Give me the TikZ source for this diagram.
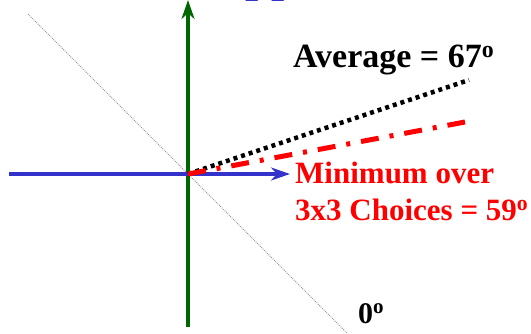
\documentclass[tikz,border=0pt]{standalone}
\usepackage{fontspec}
\setmainfont{Liberation Serif}
\usetikzlibrary{arrows.meta}
\definecolor{axblue}{RGB}{51,51,204}
\definecolor{axgreen}{RGB}{0,102,0}
\begin{document}
\begin{tikzpicture}[x=1pt,y=-1pt,
  axis/.style={line width=4pt,-{Stealth[length=19pt,width=13pt,inset=6pt]}},
  lbl/.style={inner sep=0pt,anchor=base west},
  bigtxt/.style={font=\bfseries\fontsize{34}{40}\selectfont},
  midtxt/.style={font=\bfseries\fontsize{31}{36}\selectfont},
  smalltxt/.style={font=\bfseries\fontsize{30}{36}\selectfont},
  titletxt/.style={font=\bfseries\fontsize{47}{56}\selectfont},
  diag/.style={line width=0.8pt,gray!80,dash pattern=on 1pt off 1pt},
  avgline/.style={line width=4.5pt,black,dash pattern=on 4pt off 4pt},
  minline/.style={line width=5pt,red,dash pattern=on 18pt off 11pt on 4pt off 11pt}]
\clip (0,0) rectangle (531,333);
\useasboundingbox (0,0) rectangle (531,333);
\coordinate (O) at (188,174);
\coordinate (gB) at (188,327);
\coordinate (gT) at (188,0);
\coordinate (bL) at (9,174);
\coordinate (bR) at (290,174);
\coordinate (dA) at (28,14);
\coordinate (dB) at (347,333);
\coordinate (avgEnd) at (469,80);
\coordinate (minEnd) at (465,122);
\draw[diag] (dA) -- (dB);
\draw[axis,axgreen] (gB) -- (gT);
\draw[axis,axblue] (bL) -- (bR);
\draw[avgline] (O) -- (avgEnd);
\draw[minline] (O) -- (minEnd);
\node[lbl,titletxt,axblue] (ttl) at (245,-9) {pp};
\node[lbl,bigtxt] (avg) at (293,67) {Average = 67\textsuperscript{o}};
\node[lbl,midtxt,red] (min1) at (295,183) {Minimum over};
\node[lbl,midtxt,red] (min2) at (295,220) {3x3 Choices = 59\textsuperscript{o}};
\node[lbl,smalltxt] (zero) at (358,323) {0\textsuperscript{o}};
\end{tikzpicture}
\end{document}
